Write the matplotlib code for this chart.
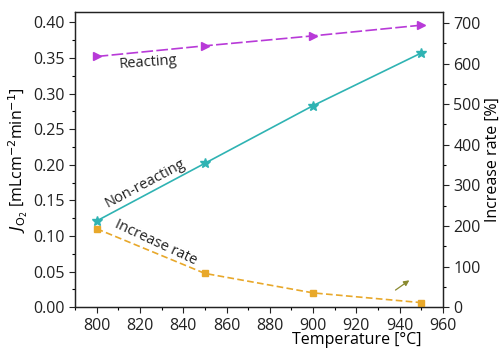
import matplotlib
matplotlib.use("Agg")
import matplotlib.pyplot as plt
from matplotlib.ticker import MultipleLocator

temps = [800, 850, 900, 950]
reacting = [0.352, 0.367, 0.381, 0.396]
non_reacting = [0.121, 0.202, 0.283, 0.357]
increase_rate = [193, 83, 35, 11]

plt.rcParams['font.family'] = ['Open Sans', 'DejaVu Sans']
fig = plt.figure(figsize=(5.0, 3.53), dpi=100)
ax = fig.add_axes([0.15, 0.13, 0.736, 0.835])
ax2 = ax.twinx()

c_re = '#b83ad8'
c_nr = '#2fb3b3'
c_ir = '#e8a82a'

ax.plot(temps, reacting, color=c_re, ls=(0, (7, 2)), lw=1.2, marker='>', ms=6,
        markerfacecolor=c_re, markeredgecolor=c_re)
ax.plot(temps, non_reacting, color=c_nr, lw=1.2, marker='*', ms=7)
ax2.plot(temps, increase_rate, color=c_ir, ls=(0, (4, 2)), lw=1.2, marker='s', ms=5)

ax.set_xlim(790, 960)
ax.set_ylim(0, 0.414)
ax2.set_ylim(0, 726)

ax.xaxis.set_major_locator(MultipleLocator(20))
ax.xaxis.set_minor_locator(MultipleLocator(10))
ax.yaxis.set_major_locator(MultipleLocator(0.05))
ax.yaxis.set_minor_locator(MultipleLocator(0.025))
ax.yaxis.set_major_formatter(matplotlib.ticker.FormatStrFormatter('%.2f'))
ax2.yaxis.set_major_locator(MultipleLocator(100))
ax2.yaxis.set_minor_locator(MultipleLocator(50))

for a in (ax, ax2):
    a.tick_params(which='major', direction='out', length=4, width=0.8, labelsize=11.5, colors='#222222')
    a.tick_params(which='minor', direction='out', length=2.5, width=0.8)
    for s in a.spines.values():
        s.set_linewidth(0.9)
        s.set_color('#222222')

ax.set_ylabel(r'$J_{\mathrm{O_2}}$ [mLcm$^{-2}$min$^{-1}$]', fontsize=11.5, labelpad=2)
ax2.set_ylabel('Increase rate [%]', fontsize=11.5, labelpad=3)
ax.set_xlabel('Temperature [°C]', fontsize=11.5, labelpad=1)
ax.xaxis.set_label_coords(0.765, -0.085)

ax.text(0.20, 0.83, 'Reacting', transform=ax.transAxes, fontsize=10.5, rotation=4, ha='center', va='center', color='#222222')
ax.text(0.19, 0.42, 'Non-reacting', transform=ax.transAxes, fontsize=10.5, rotation=28, ha='center', va='center', color='#222222')
ax.text(0.22, 0.22, 'Increase rate', transform=ax.transAxes, fontsize=10.5, rotation=-25, ha='center', va='center', color='#222222')

ax2.annotate('', xy=(945.5, 70), xytext=(937, 38),
             arrowprops=dict(arrowstyle='-|>', color='#8a8a30', lw=0.9, mutation_scale=8))

fig.savefig('out.png', dpi=100)
